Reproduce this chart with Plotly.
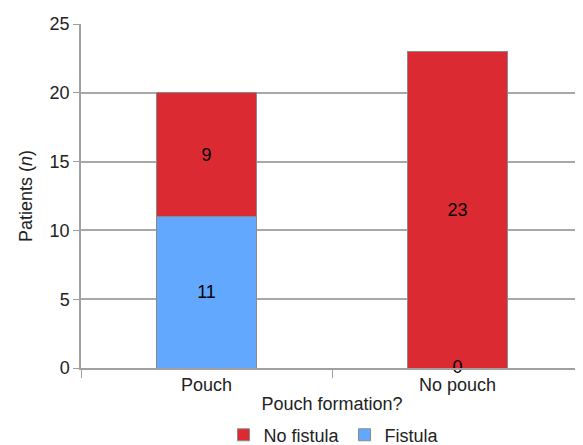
import plotly.graph_objects as go

categories = ["Pouch", "No pouch"]
fistula = [11, 0]
no_fistula = [9, 23]
y_ticks = [0, 5, 10, 15, 20, 25]

red = "#DC2A32"
blue = "#62A8FF"
font = "Liberation Sans, Arial, sans-serif"
fs = 18

fig = go.Figure()
fig.add_trace(go.Bar(
    x=categories, y=fistula, name="Fistula",
    marker=dict(color=blue, line=dict(color="#8a8a8a", width=1)),
    text=[str(v) if v else "" for v in fistula], textposition="inside",
    insidetextanchor="middle", textfont=dict(color="black", size=fs, family=font),
    width=0.4,
))
fig.add_trace(go.Bar(
    x=categories, y=no_fistula, name="No fistula",
    marker=dict(color=red, line=dict(color="#8a8a8a", width=1)),
    text=[str(v) for v in no_fistula], textposition="inside",
    insidetextanchor="middle", textfont=dict(color="black", size=fs, family=font),
    width=0.4,
))
# zero-value labels (bars of height zero)
zero_cats = [c for c, v in zip(categories, fistula) if v == 0]
zero_vals = [v for v in fistula if v == 0]
fig.add_trace(go.Scatter(
    x=zero_cats, y=zero_vals, mode="text", text=[str(v) for v in zero_vals],
    textposition="middle center", textfont=dict(color="black", size=fs, family=font),
    showlegend=False, hoverinfo="skip", cliponaxis=False,
))

# page body has an 8px margin, so the figure is 8px smaller and offset
fig.update_layout(
    barmode="stack",
    width=575, height=437,
    margin=dict(l=73, r=0, t=16, b=77, autoexpand=False),
    plot_bgcolor="white", paper_bgcolor="white",
    font=dict(family=font, size=fs, color="#222"),
    legend=dict(orientation="h", x=0.504, xanchor="center",
                y=-0.195, yanchor="middle",
                traceorder="reversed", font=dict(size=fs), itemwidth=30,
                tracegroupgap=0),
    showlegend=True,
)
fig.update_xaxes(
    title=dict(text="Pouch formation?", standoff=3, font=dict(size=fs)),
    showline=True, linecolor="#a0a0a0", linewidth=1.5,
    ticks="outside", tickson="boundaries", ticklen=8, tickcolor="#a0a0a0",
    tickfont=dict(size=fs), automargin=True,
)
fig.update_yaxes(
    title=dict(text="Patients (<i>n</i>)", standoff=12, font=dict(size=fs)),
    range=[0, 25], tickvals=y_ticks, showgrid=True, gridcolor="#a8a8a8", gridwidth=1.5,
    showline=True, linecolor="#a0a0a0", linewidth=1.5,
    ticks="outside", ticklen=6, tickcolor="#a0a0a0", tickfont=dict(size=fs),
    zeroline=False, automargin=False,
)

fig.write_html("out.html")
